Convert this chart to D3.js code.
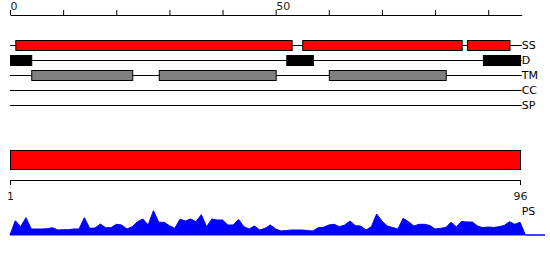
<!DOCTYPE html>
<html>
<head>
<meta charset="utf-8">
<script src="https://cdn.jsdelivr.net/npm/d3@7"></script>
<style>
  body { margin: 0; background: #fff; }
  svg { display: block; font-family: "DejaVu Sans", sans-serif; }
  .trackLabel { font-size: 11px; fill: #000; }
  .axisLabel { font-size: 11px; fill: #222; }
</style>
</head>
<body>
<svg id="chart" width="550" height="260"></svg>
<script>
// sequence length and axis labels
var seqLength = 96;
var topTickLabels = [0, 50];
var bottomTickLabels = [1, 96];

// feature tracks (start, end in residues)
var trackNames = ["SS", "D", "TM", "CC", "SP"];
var ssSegments = [[1, 53], [55, 85], [86, 94]];
var dSegments = [[0, 4], [52, 57], [89, 96]];
var tmSegments = [[4, 23], [28, 50], [60, 82]];
var ccSegments = [];
var spSegments = [];

// PS profile, one value per residue 1..96
var psValues = [
  14.3, 8.3, 17.3, 6, 6, 6, 6.3, 7.3, 5, 5.3,
  5.3, 6, 6, 17.3, 6.7, 7, 11, 7.3, 7.3, 10.7,
  10, 6, 8.3, 13.3, 16, 10, 24.3, 12.7, 12.7, 9.3,
  6.7, 15.7, 14, 16, 13.3, 20.3, 8.3, 16, 15, 15,
  10, 10, 15.7, 8.3, 6, 9, 5, 6.7, 10, 6,
  4, 4.5, 5, 5, 5, 4.5, 4, 7.3, 7.7, 10,
  10.7, 8.3, 10, 14, 9.3, 9, 5, 8.3, 21, 14,
  9, 7.5, 6, 16.7, 13.3, 9, 10.7, 10.7, 9.5, 6,
  6.7, 7.5, 12.7, 8.3, 13.5, 13, 13, 9, 7.3, 8,
  7.5, 8.3, 9.5, 13.3, 10.7, 12.7
];

var svg = d3.select("#chart");

// top ruler scale (residue 0 at left edge of tracks)
var xTop = d3.scaleLinear().domain([0, seqLength + 0.3]).range([10, 521.7]);
// bottom ruler scale (residue 1 .. 96)
var xBottom = d3.scaleLinear().domain([1, seqLength]).range([10, 520]);

/*
  NAME: drawTopAxis
  DESCRIPTION: ruler above the tracks, ticks every 10, labels at 0 and 50
*/
function drawTopAxis() {
  var axis = d3.axisTop(xTop)
    .tickValues(d3.range(0, seqLength, 10))
    .tickSize(5)
    .tickSizeOuter(0)
    .tickFormat(function (d) {
      return topTickLabels.indexOf(d) >= 0 ? d : "";
    });

  var g = svg.append("g")
    .attr("transform", "translate(0,15)")
    .call(axis);

  g.select(".domain").attr("stroke", "#000");
  g.selectAll(".tick line").attr("stroke", "#000");
  g.selectAll(".tick text")
    .attr("text-anchor", "start")
    .attr("y", -5)
    .attr("dy", 0)
    .attr("font-family", "DejaVu Sans, sans-serif")
    .attr("font-size", 11)
    .attr("fill", "#222");
} // end function drawTopAxis

/*
  NAME: drawTracks
  DESCRIPTION: one horizontal line per feature with boxes for segments
*/
function drawTracks() {
  var yTrack = d3.scalePoint().domain(trackNames).range([45, 105]);
  var tracks = [
    { name: "SS", segs: ssSegments, fill: "#ff0000" },
    { name: "D", segs: dSegments, fill: "#000000" },
    { name: "TM", segs: tmSegments, fill: "#808080" },
    { name: "CC", segs: ccSegments, fill: "#808080" },
    { name: "SP", segs: spSegments, fill: "#808080" }
  ];

  tracks.forEach(function (t) {
    var y = yTrack(t.name);
    var g = svg.append("g").attr("class", "track");

    g.append("line")
      .attr("x1", xTop(0))
      .attr("x2", xTop(seqLength + 0.3))
      .attr("y1", y + 0.5)
      .attr("y2", y + 0.5)
      .attr("stroke", "#000")
      .attr("stroke-width", 1);

    g.selectAll("rect")
      .data(t.segs)
      .enter()
      .append("rect")
      .attr("x", function (d) { return xTop(d[0]) + 0.5; })
      .attr("y", y - 4.5)
      .attr("width", function (d) { return xTop(d[1]) - xTop(d[0]); })
      .attr("height", 10)
      .attr("fill", t.fill)
      .attr("stroke", "#000")
      .attr("stroke-width", 1);

    g.append("text")
      .attr("class", "trackLabel")
      .attr("x", xTop(seqLength + 0.3))
      .attr("y", y)
      .attr("dy", "0.4em")
      .text(t.name);
  });
} // end function drawTracks

/*
  NAME: drawSequenceBar
  DESCRIPTION: full length red bar with 1..96 ruler below it
*/
function drawSequenceBar() {
  svg.append("rect")
    .attr("x", xBottom(1) + 0.5)
    .attr("y", 150.5)
    .attr("width", xBottom(seqLength) - xBottom(1))
    .attr("height", 19)
    .attr("fill", "#ff0000")
    .attr("stroke", "#000")
    .attr("stroke-width", 1);

  var axis = d3.axisBottom(xBottom)
    .tickValues(bottomTickLabels)
    .tickSize(5)
    .tickSizeOuter(0)
    .tickFormat(d3.format("d"));

  var g = svg.append("g")
    .attr("transform", "translate(0,180)")
    .call(axis);

  g.select(".domain").attr("stroke", "#000");
  g.selectAll(".tick line").attr("stroke", "#000");
  g.selectAll(".tick text")
    .attr("y", 20)
    .attr("dy", 0)
    .attr("font-family", "DejaVu Sans, sans-serif")
    .attr("font-size", 11)
    .attr("fill", "#222");
} // end function drawSequenceBar

/*
  NAME: drawProfile
  DESCRIPTION: PS area profile at the bottom
*/
function drawProfile() {
  var yPS = d3.scaleLinear().domain([0, 30]).range([235, 205]);

  // pad with zero at residue 0 and after the end so the baseline runs on
  var pts = [[0, 0]];
  psValues.forEach(function (v, i) { pts.push([i + 1, v]); });
  for (var r = seqLength + 1; r <= seqLength + 5; r++) pts.push([r, 0]);

  svg.append("clipPath")
    .attr("id", "psClip")
    .append("rect")
    .attr("x", 0)
    .attr("y", 190)
    .attr("width", 545)
    .attr("height", 60);

  var area = d3.area()
    .x(function (d) { return xTop(d[0]); })
    .y0(yPS(0))
    .y1(function (d) { return yPS(d[1]); });

  svg.append("path")
    .datum(pts)
    .attr("clip-path", "url(#psClip)")
    .attr("d", area)
    .attr("fill", "#0000ff")
    .attr("stroke", "#0000ff")
    .attr("stroke-width", 1);

  svg.append("text")
    .attr("class", "trackLabel")
    .attr("x", xTop(seqLength + 0.3))
    .attr("y", 215)
    .text("PS");
} // end function drawProfile

drawTopAxis();
drawTracks();
drawSequenceBar();
drawProfile();
</script>
</body>
</html>
